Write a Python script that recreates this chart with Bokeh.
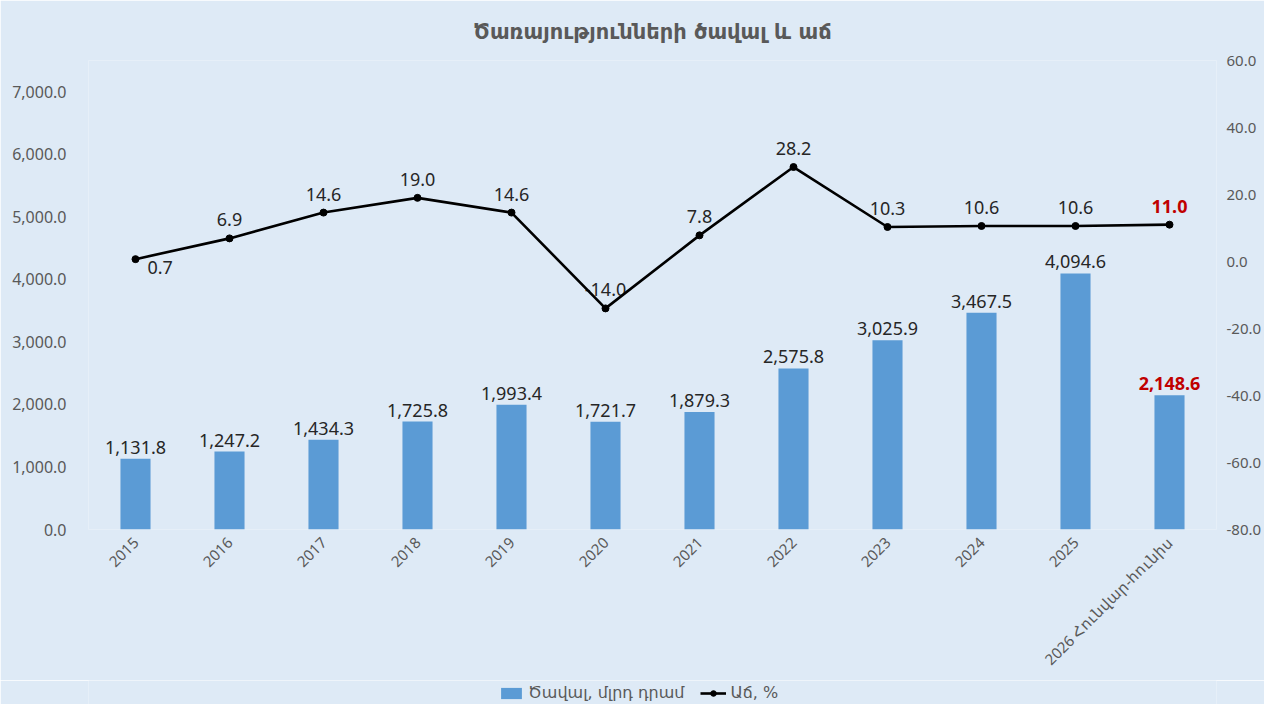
import math
from bokeh.plotting import figure
from bokeh.layouts import column
from bokeh.models import (ColumnDataSource, Range1d, LinearAxis, FixedTicker,
                          NumeralTickFormatter, Legend, LegendItem, FactorRange)
from bokeh.core.properties import value
from bokeh.embed import file_html
from bokeh.resources import INLINE

# ---------------- data ----------------
categories = ["2015", "2016", "2017", "2018", "2019", "2020", "2021", "2022",
              "2023", "2024", "2025", "2026 Հունվար-հունիս"]
volume = [1131.8, 1247.2, 1434.3, 1725.8, 1993.4, 1721.7, 1879.3, 2575.8,
          3025.9, 3467.5, 4094.6, 2148.6]
growth = [0.7, 6.9, 14.6, 19.0, 14.6, -14.0, 7.8, 28.2, 10.3, 10.6, 10.6, 11.0]
left_ticks = [0, 1000, 2000, 3000, 4000, 5000, 6000, 7000]
right_ticks = [-80, -60, -40, -20, 0, 20, 40, 60]

title_text = "Ծառայությունների ծավալ և աճ"
bar_name = "Ծավալ, մլրդ դրամ"
line_name = "Աճ, %"

# ---------------- styles ----------------
BG = "#DEEAF6"
BAR = "#5B9BD5"
GREY = "#595959"
DARK = "#262626"
RED = "#C00000"
NUM_FONT = "Noto Sans"
ARM_FONT = "DejaVu Sans"

n = len(categories)
highlight = [False] * (n - 1) + [True]

bar_src = ColumnDataSource(dict(
    x=categories, top=volume,
    label=[f"{v:,.1f}" for v in volume],
    color=[RED if h else DARK for h in highlight],
    style=["bold" if h else "normal" for h in highlight],
))

g_align = ["left"] + ["center"] * (n - 1)
g_base = ["top"] + ["bottom"] * (n - 1)
g_xoff = [12] + [0] * (n - 1)
g_yoff = [2] + [-12] * (n - 1)
line_src = ColumnDataSource(dict(
    x=categories, y=growth,
    label=[f"{v:.1f}" for v in growth],
    color=[RED if h else DARK for h in highlight],
    style=["bold" if h else "normal" for h in highlight],
    align=g_align, base=g_base, xoff=g_xoff, yoff=g_yoff,
))

p = figure(width=1264, height=680, x_range=FactorRange(*categories),
           y_range=Range1d(0, 7500), output_backend="svg",
           toolbar_location=None, tools="",
           background_fill_color=BG, border_fill_color=BG,
           min_border_left=88, min_border_right=42, min_border_top=59,
           min_border_bottom=151)
p.outline_line_color = None
p.grid.visible = False

p.title.text = title_text
p.title.align = "center"
p.title.text_font = ARM_FONT
p.title.text_font_size = "21px"
p.title.text_font_style = "bold"
p.title.text_color = GREY
p.title.standoff = 34

p.extra_y_ranges = {"g": Range1d(-80, 60)}

# left axis
ya = p.yaxis[0]
ya.ticker = FixedTicker(ticks=left_ticks)
ya.formatter = NumeralTickFormatter(format="0,0.0")
ya.axis_line_color = None
ya.major_tick_line_color = None
ya.minor_tick_line_color = None
ya.major_label_text_font = NUM_FONT
ya.major_label_text_font_size = "16px"
ya.major_label_text_color = GREY
ya.major_label_standoff = 16

# right axis
ra = LinearAxis(y_range_name="g", ticker=FixedTicker(ticks=right_ticks),
                formatter=NumeralTickFormatter(format="0.0"))
ra.axis_line_color = None
ra.major_tick_line_color = None
ra.minor_tick_line_color = None
ra.major_label_text_font = NUM_FONT
ra.major_label_text_font_size = "15px"
ra.major_label_text_color = GREY
ra.major_label_standoff = 4
p.add_layout(ra, "right")

# x axis
xa = p.xaxis[0]
xa.axis_line_color = None
xa.major_tick_line_color = None
xa.minor_tick_line_color = None
xa.major_label_orientation = math.pi / 4
xa.major_label_text_font = NUM_FONT
xa.major_label_text_font_size = "15px"
xa.major_label_text_color = GREY
xa.major_label_standoff = 4

# bars
bars = p.vbar(x="x", top="top", width=0.32, source=bar_src, color=BAR, line_color=None)
p.text(x="x", y="top", text="label", source=bar_src, text_align="center",
       text_baseline="bottom", y_offset=-5, text_font=value(NUM_FONT),
       text_font_size="18px", text_color="color", text_font_style="style")

# growth labels (drawn under the line)
p.text(x="x", y="y", text="label", source=line_src, y_range_name="g",
       text_align="align", text_baseline="base", x_offset="xoff", y_offset="yoff",
       text_font=value(NUM_FONT), text_font_size="18px", text_color="color",
       text_font_style="style")

ln = p.line(x="x", y="y", source=line_src, y_range_name="g", line_color="black",
            line_width=2.6)
pts = p.scatter(x="x", y="y", source=line_src, y_range_name="g", size=7,
                fill_color="black", line_color="black")

# ---------------- legend strip ----------------
lg = figure(width=1264, height=24, x_range=Range1d(0, 1), y_range=Range1d(0, 1),
            output_backend="svg", toolbar_location=None, tools="",
            background_fill_color=BG, border_fill_color=BG,
            min_border=0)
lg.outline_line_color = None
lg.grid.visible = False
lg.axis.visible = False
nan = float("nan")
swatch_bar = ColumnDataSource(dict(x=[nan], top=[nan]))
swatch_line = ColumnDataSource(dict(x=[nan], y=[nan]))
lb = lg.vbar(x="x", top="top", width=0.3, source=swatch_bar, color=BAR, line_color=None)
ll = lg.line(x="x", y="y", source=swatch_line, line_color="black", line_width=2.6)
lp = lg.scatter(x="x", y="y", source=swatch_line, size=7, fill_color="black",
                line_color="black")
legend = Legend(items=[LegendItem(label=bar_name, renderers=[lb]),
                       LegendItem(label=line_name, renderers=[ll, lp])],
                orientation="horizontal", location=(410, 2),
                background_fill_alpha=0, border_line_color=None,
                label_text_font=ARM_FONT, label_text_font_size="16px",
                label_text_color=GREY, glyph_width=26, glyph_height=14,
                spacing=16, padding=0, margin=0, label_standoff=4)
lg.add_layout(legend, "center")

open("out.html", "w").write(file_html(column(p, lg, spacing=0), INLINE))
